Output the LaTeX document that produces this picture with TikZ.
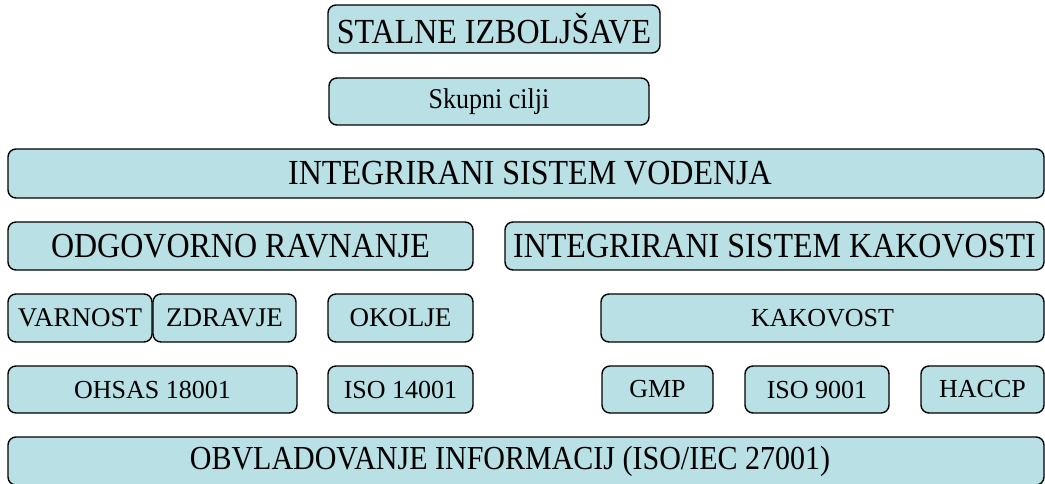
\documentclass[tikz,border=0pt]{standalone}
\usepackage{fontspec}
\setmainfont{Liberation Serif}
\definecolor{boxfill}{RGB}{185,224,228}
\newcommand{\tall}[1]{\scalebox{1}[1.1]{#1}}
\tikzset{
  blk/.style={draw=black, line width=1.4pt, fill=boxfill, rounded corners=8pt,
    inner sep=0pt, align=center, text=black},
  big/.style={font=\fontsize{32}{38}\selectfont},
  low/.style={font=\fontsize{30}{36}\selectfont},
  mid/.style={font=\fontsize{27}{32}\selectfont},
  sm/.style={font=\fontsize{26}{31}\selectfont},
}
\begin{document}
\begin{tikzpicture}[x=1pt,y=-1pt]
\useasboundingbox (0,0) rectangle (1045,484);
\node[blk,big,minimum width=332pt,minimum height=48pt] (stalne) at (494,29) {\tall{STALNE IZBOLJŠAVE}};
\node[blk,sm,minimum width=320pt,minimum height=47pt] (skupni) at (489,101.5) {\tall{Skupni cilji}};
\node[blk,big,minimum width=1036pt,minimum height=49pt] (isv) at (526,173.5) {\tall{INTEGRIRANI SISTEM VODENJA}\hspace*{-8pt}};
\node[blk,big,minimum width=465pt,minimum height=48pt] (odg) at (240.5,246) {\tall{ODGOVORNO RAVNANJE}};
\node[blk,big,minimum width=539pt,minimum height=48pt] (isk) at (774.5,246) {\tall{INTEGRIRANI SISTEM KAKOVOSTI}};
\node[blk,mid,minimum width=144pt,minimum height=48pt] (varnost) at (80,318) {VARNOST};
\node[blk,mid,minimum width=143pt,minimum height=48pt] (zdravje) at (224.5,318) {ZDRAVJE};
\node[blk,mid,minimum width=145pt,minimum height=48pt] (okolje) at (400.5,318) {OKOLJE};
\node[blk,sm,minimum width=443pt,minimum height=48pt] (kakovost) at (822.5,318) {KAKOVOST};
\node[blk,sm,minimum width=289pt,minimum height=47pt] (ohsas) at (152.5,389.5) {OHSAS 18001};
\node[blk,sm,minimum width=145pt,minimum height=47pt] (iso14) at (400.5,389.5) {ISO 14001};
\node[blk,sm,minimum width=111pt,minimum height=47pt] (gmp) at (657.5,389.5) {GMP};
\node[blk,sm,minimum width=144pt,minimum height=47pt] (iso9) at (817,389.5) {ISO 9001};
\node[blk,sm,minimum width=123pt,minimum height=47pt] (haccp) at (982.5,389.5) {HACCP};
\node[blk,low,minimum width=1036pt,minimum height=48pt] (obv) at (526,461) {\hspace*{-32pt}\scalebox{1}[1.12]{OBVLADOVANJE INFORMACIJ (ISO/IEC 27001)}};
\end{tikzpicture}
\end{document}
